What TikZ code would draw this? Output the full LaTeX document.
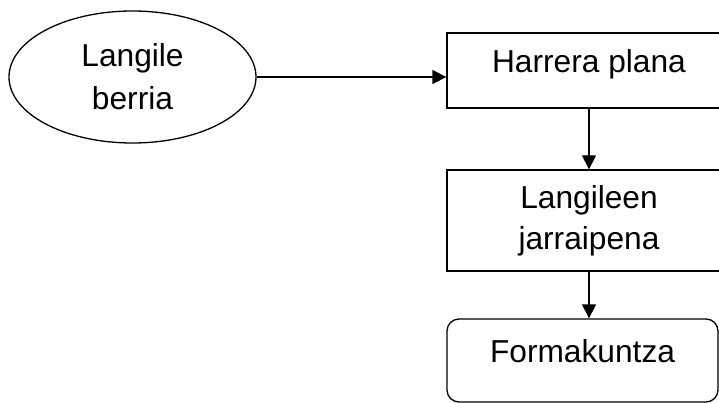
\documentclass[tikz,border=0pt]{standalone}
\usepackage{fontspec}
\setmainfont{Liberation Sans}
\usepackage{tikz}
\usetikzlibrary{arrows.meta,positioning,shapes.geometric}

\begin{document}
\begin{tikzpicture}[x=1pt,y=-1pt,
  oval/.style={draw,ellipse,line width=1.3pt,minimum width=247pt,
              minimum height=132pt,align=center},
  box/.style={draw,line width=1.3pt,minimum width=284pt,align=center},
  topbox/.style={box,text height=23pt,text depth=19pt},
  arr/.style={-{Triangle[length=14pt,width=14pt]},line width=1.3pt},
  every node/.style={font=\fontsize{31.7pt}{41pt}\selectfont}]
\useasboundingbox (0,0) rectangle (719,403);
\node[oval] (berria) at (132.5,77) {Langile\\[2pt]berria};
\node[topbox,minimum height=75pt] (harrera) at (589,70.5) {Harrera plana};
\node[box,minimum height=101pt] (jarrai) at (589,220.5) {Langileen\\jarraipena};
\node[topbox,rounded corners=12pt,minimum width=271pt,minimum height=83pt]
   (forma) at (582.5,360.5) {Formakuntza};
% connectors
\draw[arr] (berria.east) -- (berria.east -| harrera.west);
\draw[arr] (harrera.south) -- (jarrai.north);
\draw[arr] (jarrai.south) -- (jarrai.south |- forma.north);
\end{tikzpicture}
\end{document}
